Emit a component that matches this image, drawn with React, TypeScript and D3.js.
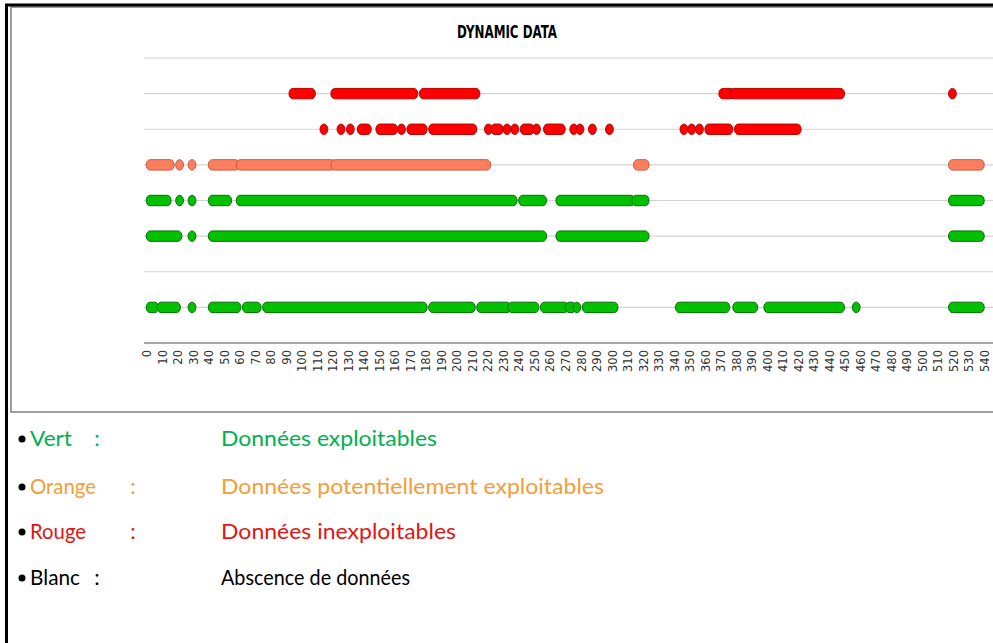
import React from 'react';
import * as d3 from 'd3';

// runs of consecutive samples, [start, end] on the time axis
const redTopRuns = [[94, 106], [121, 172], [178, 212], [371, 376], [378, 447], [519, 519]];
const redRuns = [
  [114, 114], [125, 125], [131, 131], [138, 142], [150, 159], [164, 164], [170, 178],
  [184, 210], [220, 220], [224, 227], [232, 232], [237, 237], [243, 247], [251, 251],
  [258, 267], [275, 275], [279, 279], [287, 287], [298, 298],
  [346, 346], [351, 351], [356, 356], [362, 375], [381, 419],
];
const orangeRuns = [[2, 15], [21, 21], [29, 29], [42, 57], [60, 119], [121, 219], [316, 321], [519, 537]];
const greenRunsHigh = [[2, 13], [21, 21], [29, 29], [42, 52], [60, 236], [242, 255], [266, 312], [315, 321], [519, 537]];
const greenRunsMid = [[2, 20], [29, 29], [42, 255], [266, 321], [519, 537]];
const greenRunsLow = [
  [2, 5], [9, 19], [29, 29], [42, 58], [64, 71], [77, 178], [184, 209], [215, 232],
  [235, 250], [256, 269], [272, 274], [277, 277], [283, 301],
  [343, 373], [380, 391], [400, 447], [457, 457], [519, 537],
];

const rows = [
  { level: 7, runs: redTopRuns, fill: '#ff0000', stroke: '#b80000' },
  { level: 6, runs: redRuns, fill: '#ff0000', stroke: '#b80000' },
  { level: 5, runs: orangeRuns, fill: '#fb7f5f', stroke: '#d0553a' },
  { level: 4, runs: greenRunsHigh, fill: '#00c000', stroke: '#007000' },
  { level: 3, runs: greenRunsMid, fill: '#00c000', stroke: '#007000' },
  { level: 1, runs: greenRunsLow, fill: '#00c000', stroke: '#007000' },
];

const xTicks = d3.range(0, 541, 10);

const legendKeys = ['Vert', 'Orange', 'Rouge', 'Blanc'];
const legendTexts = [
  'Données exploitables',
  'Données potentiellement exploitables',
  'Données inexploitables',
  'Abscence de données',
];
const legendColors = ['#00b050', '#f59d38', '#e31414', '#000000'];

export default function App() {
  const width = 993;
  const height = 643;
  const x = d3.scaleLinear().domain([0, 540]).range([147, 985]);
  const y = d3.scaleLinear().domain([0, 8]).range([343, 58]);
  const rx = 3.9;
  const ry = 5.2;

  const legendKeyWidths = [42, 66, 56, 50];
  const colonX = [97, 133, 133, 97];
  const textWidths = [216, 383, 235, 189];
  const baselines = [446, 494, 539, 585];

  return (
    <svg
      width={width}
      height={height}
      viewBox={`0 0 ${width} ${height}`}
      style={{ position: 'absolute', left: 0, top: 0, background: '#fff' }}
    >
      <rect x={11} y={7} width={990} height={405} fill="#fff" stroke="#7f7f7f" strokeWidth={1.5} />
      <path d={`M6.5,${height} V5 H${width}`} fill="none" stroke="#000" strokeWidth={3} />

      <text
        x={507}
        y={38}
        textAnchor="middle"
        fontFamily="'Liberation Sans Narrow', 'DejaVu Sans Condensed', sans-serif"
        fontWeight="bold"
        fontSize={18}
        textLength={100}
        lengthAdjust="spacingAndGlyphs"
        fill="#000"
      >
        DYNAMIC DATA
      </text>

      {d3.range(1, 9).map(v => (
        <line key={v} x1={144} x2={width} y1={y(v)} y2={y(v)} stroke="#d4d4d4" strokeWidth={1.2} />
      ))}
      <line x1={144} x2={width} y1={y(0)} y2={y(0)} stroke="#a6a6a6" strokeWidth={2} />

      {xTicks.map(t => (
        <text
          key={t}
          transform={`translate(${x(t)}, 350) rotate(-90)`}
          textAnchor="end"
          dominantBaseline="central"
          fontFamily="'DejaVu Sans', sans-serif"
          fontSize={11.5}
          fill="#333"
        >
          {t}
        </text>
      ))}

      {rows.map(row => (
        <g key={row.level}>
          {row.runs.map(([a, b], i) => (
            <rect
              key={i}
              x={x(a) - rx}
              y={y(row.level) - ry}
              width={x(b) - x(a) + 2 * rx}
              height={2 * ry}
              rx={rx}
              ry={ry}
              fill={row.fill}
              stroke={row.stroke}
              strokeWidth={1}
            />
          ))}
        </g>
      ))}

      {legendKeys.map((k, i) => (
        <g key={k} fontFamily="Lato, 'Open Sans', sans-serif" fontSize={22}>
          <circle cx={22} cy={baselines[i] - 7} r={3.5} fill="#000" />
          <text x={30} y={baselines[i]} fill={legendColors[i]} textLength={legendKeyWidths[i]} lengthAdjust="spacingAndGlyphs">
            {k}
          </text>
          <text x={colonX[i]} y={baselines[i]} fill={legendColors[i]} textAnchor="middle">
            :
          </text>
          <text x={221} y={baselines[i]} fill={legendColors[i]} textLength={textWidths[i]} lengthAdjust="spacingAndGlyphs">
            {legendTexts[i]}
          </text>
        </g>
      ))}
    </svg>
  );
}
